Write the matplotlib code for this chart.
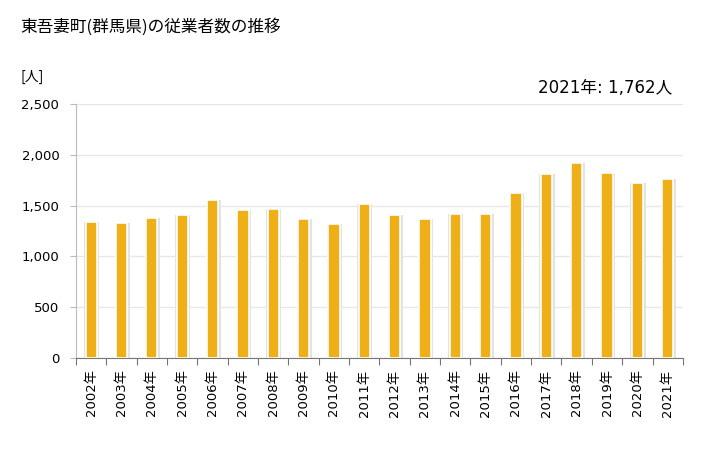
import matplotlib
matplotlib.use("Agg")
import matplotlib.pyplot as plt
import numpy as np

plt.rcParams["font.family"] = ["DejaVu Sans", "Noto Sans CJK JP"]

years = [str(y) for y in range(2002, 2022)]
employees = [1336, 1326, 1375, 1405, 1552, 1454, 1464, 1366, 1316, 1513,
             1405, 1366, 1415, 1415, 1621, 1807, 1915, 1817, 1719, 1762]
tick_labels = [f"{y}年" for y in years]

BAR = "#eeb016"

fig = plt.figure(figsize=(7.28, 4.5), dpi=100)
ax = fig.add_axes([0.1044, 0.2038, 0.8336, 0.5658])

x = np.arange(len(years))
# soft shadow behind each bar
ax.bar(x + 0.02, employees, width=0.5, color="#e3e3e3", zorder=2)
ax.bar(x, employees, width=0.37, color=BAR, edgecolor="white", linewidth=1.2, zorder=3)

ax.set_xlim(-0.5, len(years) - 0.5)
ax.set_ylim(0, 2500)
ax.set_yticks(range(0, 2501, 500))
ax.set_yticklabels([f"{v:,}" for v in range(0, 2501, 500)], fontsize=9.5)
ax.yaxis.grid(True, color="#e8e8e8", linewidth=1, zorder=0)
ax.set_axisbelow(True)

ax.set_xticks(np.arange(-0.5, len(years), 1.0))
ax.set_xticklabels([])
ax.set_xticks(x, minor=True)
ax.set_xticklabels(tick_labels, minor=True, rotation=90, fontsize=9.5)
ax.tick_params(axis="x", which="major", length=5, color="#777777")
ax.tick_params(axis="x", which="minor", length=0, pad=8)
ax.tick_params(axis="y", length=4, color="#bbbbbb", pad=8)

for side in ("top", "right"):
    ax.spines[side].set_visible(False)
ax.spines["left"].set_color("#bbbbbb")
ax.spines["bottom"].set_color("#777777")

fig.text(20 / 728, 1 - 27 / 450, "東吾妻町(群馬県)の従業者数の推移", fontsize=12,
         ha="left", va="center", family=["Noto Sans CJK JP", "DejaVu Sans"])
fig.text(20 / 728, 1 - 77 / 450, "[人]", fontsize=10, ha="left", va="center",
         family=["Noto Sans CJK JP", "DejaVu Sans"])
fig.text(672 / 728, 1 - 88 / 450, "2021年: 1,762人", fontsize=12, ha="right", va="center")

fig.savefig("out.png", dpi=100, facecolor="white")
